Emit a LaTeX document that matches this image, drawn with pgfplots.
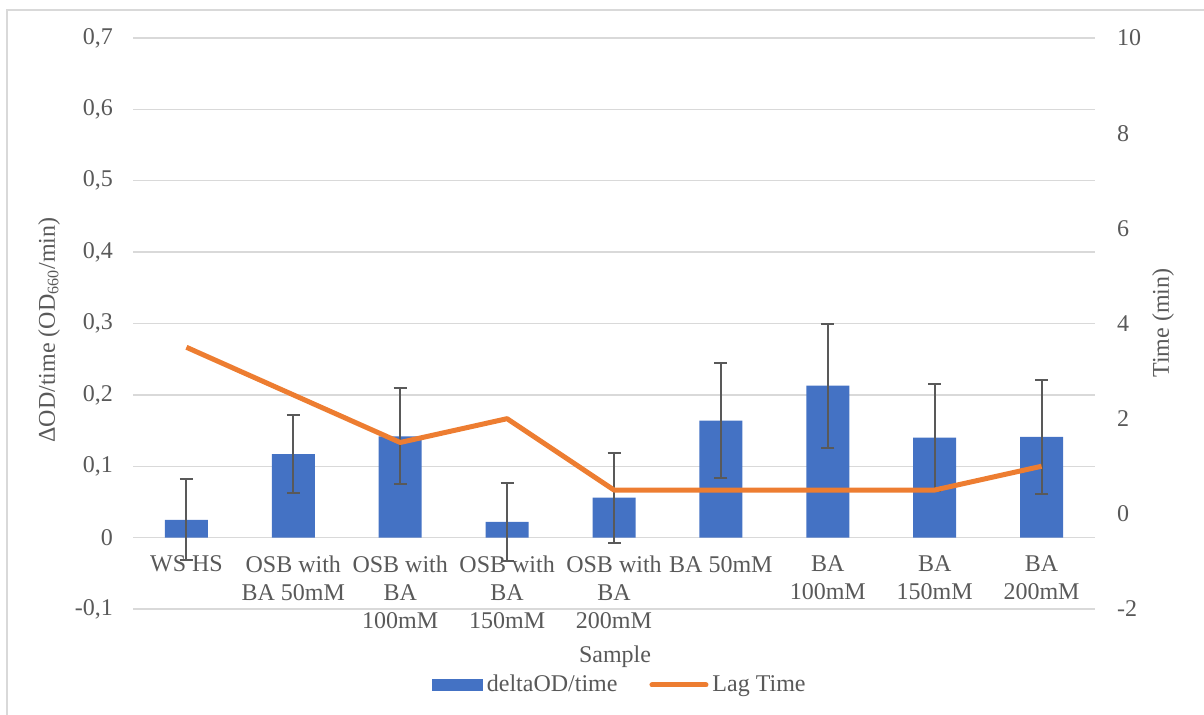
\documentclass[border=0pt]{standalone}
\usepackage{fontspec}
\setmainfont{Liberation Serif}
\usepackage{pgfplots}
\pgfplotsset{compat=1.18}
\definecolor{barblue}{HTML}{4472C4}
\definecolor{lagorange}{HTML}{ED7D31}
\definecolor{txtgray}{HTML}{595959}
\definecolor{gridgray}{HTML}{D9D9D9}
\definecolor{errgray}{HTML}{595959}
\newcommand{\lblfont}{\fontsize{12}{14}\selectfont}
\begin{document}
\begin{tikzpicture}[x=0.5pt,y=-0.5pt]
\path[use as bounding box] (0,0) rectangle (1204,715);
\draw[gridgray, line width=0.75pt] (7,715) -- (7,10) -- (1204,10);
\coordinate (axpos) at (133,609);
\pgfplotsset{
  common/.style={
    at={(axpos)}, anchor=south west,
    width=481pt, height=285.5pt, scale only axis,
    xmin=-0.5, xmax=8.5,
    major tick length=0pt,
    tick label style={font=\lblfont, text=txtgray},
    axis line style={draw=none},
  }
}
\begin{axis}[common,
  ymin=-0.1, ymax=0.7,
  ytick={-0.1,0,0.1,0.2,0.3,0.4,0.5,0.6,0.7},
  yticklabels={{-0,1},{0},{0,1},{0,2},{0,3},{0,4},{0,5},{0,6},{0,7}},
  yticklabel style={xshift=-6.5pt},
  ymajorgrids, grid style={gridgray, line width=0.75pt},
  xtick={0,...,8},
  xticklabels={{WS HS},{OSB with\\BA 50mM},{OSB with\\BA\\100mM},{OSB with\\BA\\150mM},{OSB with\\BA\\200mM},{BA 50mM},{BA\\100mM},{BA\\150mM},{BA\\200mM}},
  xticklabel style={align=center, yshift=30pt},
  ybar, bar width=21.5pt,
  legend style={at={(0.507,-0.133)}, anchor=center, draw=none, font=\lblfont, text=txtgray,
    legend columns=2, /tikz/every even column/.append style={column sep=14pt}},
]
% deltaOD/time with standard deviation
\addplot[fill=barblue, draw=none,
  legend image code/.code={\fill[barblue] (0pt,-3pt) rectangle (25.5pt,3pt);},
  error bars/.cd, y dir=both, y explicit,
  error bar style={errgray, line width=1pt},
  error mark options={rotate=90, errgray, line width=1pt, mark size=3.25pt}]
coordinates {
  (0,0.025) +- (0,0.057)
  (1,0.117) +- (0,0.055)
  (2,0.142) +- (0,0.067)
  (3,0.022) +- (0,0.055)
  (4,0.056) +- (0,0.063)
  (5,0.164) +- (0,0.080)
  (6,0.213) +- (0,0.087)
  (7,0.140) +- (0,0.075)
  (8,0.141) +- (0,0.080)
};
\addlegendentry{deltaOD/time}
\addlegendimage{legend image code/.code={\draw[lagorange, line width=2.5pt, line cap=round] (0pt,0pt) -- (27pt,0pt);}}
\addlegendentry{Lag Time}
\end{axis}
\begin{axis}[common,
  ymin=-2, ymax=10,
  ytick={-2,0,2,4,6,8,10},
  yticklabels={{-2},{0},{2},{4},{6},{8},{10}},
  yticklabel pos=right,
  yticklabel style={xshift=7.5pt},
  xtick=\empty,
]
\addplot[lagorange, line width=2.5pt, line join=round] coordinates {
  (0,3.5) (1,2.5) (2,1.5) (3,2.0) (4,0.5) (5,0.5) (6,0.5) (7,0.5) (8,1.0)
};
\end{axis}
\node[rotate=90, text=txtgray, font=\lblfont] at (49,330) {ΔOD/time (OD\textsubscript{660}/min)};
\node[rotate=90, text=txtgray, font=\lblfont] at (1163,323) {Time (min)};
\node[text=txtgray, font=\lblfont] at (615,657) {Sample};
\end{tikzpicture}
\end{document}
